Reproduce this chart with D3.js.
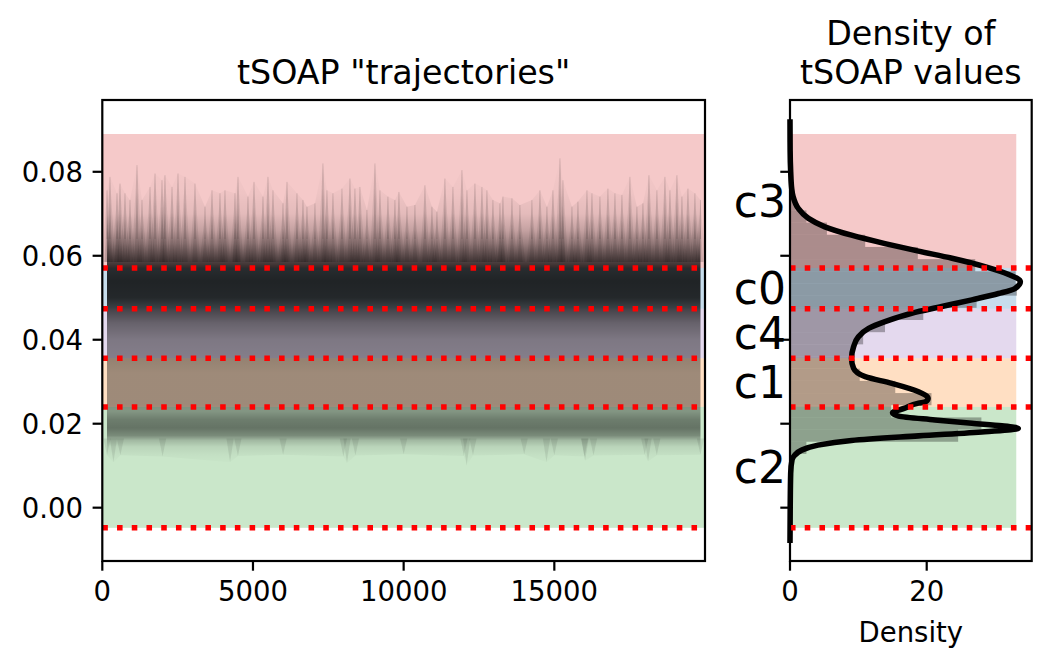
<!DOCTYPE html>
<html><head><meta charset="utf-8">
<script src="https://cdn.jsdelivr.net/npm/d3@7"></script>
<style>
body{margin:0;background:#fff}
svg{display:block}
text{font-family:"DejaVu Sans",sans-serif;fill:#000}
</style>
</head><body>
<svg id="chart" width="1051" height="669"></svg>
<script>
// ---------------- data ----------------
const clusterNames  = ["c2", "c1", "c4", "c0", "c3"];
const clusterColors = ["#2ca02c", "#ff7f0e", "#9467bd", "#1f77b4", "#d62728"];
// boundaries between the clusters (tSOAP value)
const thresholds = [-0.0048, 0.0240, 0.0356, 0.0474, 0.0571, 0.0890];

const xTicksLeft = [0, 5000, 10000, 15000];
const xTickLabelsLeft = ["0", "5000", "10000", "15000"];
const yTicks = [0, 0.02, 0.04, 0.06, 0.08];
const yTickLabels = ["0.00", "0.02", "0.04", "0.06", "0.08"];
const xTicksRight = [0, 20];
const xTickLabelsRight = ["0", "20"];

// KDE of all tSOAP values
const kdeValue   = [0.0925,0.0850,0.0800,0.0760,0.0741,0.0713,0.0689,0.0669,0.0649,0.0629,0.0611,0.0594,0.0574,0.0556,0.0538,0.0522,0.0510,0.0495,0.0479,0.0463,0.0443,0.0427,0.0407,0.0383,0.0356,0.0332,0.0312,0.0296,0.0276,0.0260,0.0252,0.0249,0.0237,0.0226,0.0218,0.0209,0.0201,0.0195,0.0189,0.0181,0.0171,0.0160,0.0149,0.0137,0.0125,0.0114,0.0082,0.0000,-0.0084];
const kdeDensity = [0.0,0.02,0.1,0.25,0.45,1.2,2.7,5.1,9.0,13.9,18.8,23.7,28.5,31.9,33.7,32.9,30.5,26.6,22.2,17.8,13.9,11.5,10.0,9.3,9.0,9.3,11.0,14.9,18.8,20.2,19.8,18.8,16.8,15.0,15.9,21.2,26.6,31.0,33.4,28.5,18.8,9.0,4.1,1.7,0.7,0.3,0.1,0.03,0.0];

// histogram of tSOAP values (lower bin edges, fixed width)
const histStart = -0.0075;
const histWidth = 0.0029;
const histDensity = [0.02,0.03,0.04,0.05,0.06,0.1,0.3,2.4,24.6,28.0,14.8,20.7,15.4,10.2,9.2,9.2,10.7,13.9,19.5,27.3,33.2,33.0,27.1,18.7,11.0,5.4,2.4,0.8,0.3,0.15,0.08,0.03,0.01,0.01,0.0];

// upper envelope of the trajectories (spike tips)
const trajTopTime  = [156,255,488,587,753,919,1151,1317,1583,1749,1981,2080,2313,2512,2744,3076,3408,3640,3905,4071,4403,4503,4834,5034,5332,5498,5664,5996,6129,6460,6659,6792,7057,7322,7455,7654,7953,8218,8384,8550,8782,9048,9214,9479,9711,9844,10110,10375,10707,10939,11105,11370,11636,11935,12101,12366,12598,12764,12963,13196,13295,13594,13859,14257,14523,14755,14954,15187,15286,15585,15784,16083,16249,16514,16779,17012,17244,17509,17741,17941,18140,18405,18671,18837,19069,19235,19434,19666,19850];
const trajTopValue = [0.0756,0.0788,0.0749,0.0772,0.0749,0.0733,0.0816,0.0733,0.0764,0.0796,0.0780,0.0792,0.0764,0.0796,0.0788,0.0772,0.0717,0.0756,0.0749,0.0756,0.0749,0.0788,0.0741,0.0776,0.0741,0.0788,0.0756,0.0725,0.0776,0.0749,0.0733,0.0717,0.0725,0.0820,0.0756,0.0749,0.0760,0.0784,0.0760,0.0764,0.0709,0.0820,0.0756,0.0741,0.0733,0.0752,0.0717,0.0721,0.0768,0.0717,0.0705,0.0784,0.0764,0.0804,0.0756,0.0772,0.0764,0.0756,0.0733,0.0725,0.0741,0.0737,0.0721,0.0733,0.0756,0.0717,0.0756,0.0832,0.0780,0.0717,0.0729,0.0756,0.0749,0.0741,0.0760,0.0749,0.0745,0.0788,0.0717,0.0725,0.0792,0.0756,0.0788,0.0756,0.0792,0.0741,0.0760,0.0749,0.0733];

// lower envelope of the trajectories
const trajBottomTime  = [156,370,600,2000,4240,4500,6000,8000,8120,8400,10000,12000,12090,12300,14000,14740,15000,16000,16020,16300,18000,18110,18400,19850];
const trajBottomValue = [0.0125,0.0108,0.0125,0.0122,0.0108,0.0123,0.0126,0.0122,0.0106,0.0124,0.0127,0.0123,0.0100,0.0124,0.0127,0.0108,0.0125,0.0122,0.0112,0.0124,0.0126,0.0110,0.0125,0.0126];

// how dark the overlaid trajectories are at each tSOAP level
const inkLevel   = [0.0100,0.0125,0.0145,0.0160,0.0172,0.0190,0.0210,0.0230,0.0245,0.0280,0.0320,0.0356,0.0400,0.0440,0.0474,0.0500,0.0540,0.0570,0.0600,0.0630,0.0660,0.0700,0.0750,0.0840];
const inkOpacity = [0,0.03,0.08,0.2,0.4,0.5,0.46,0.35,0.38,0.38,0.38,0.42,0.45,0.55,0.7,0.82,0.84,0.8,0.58,0.36,0.2,0.07,0.025,0.0];

// ---------------- layout ----------------
const svg = d3.select("#chart");
const L = {x0: 102.3, x1: 705, y0: 100, y1: 561};
const R = {x0: 790, x1: 1031.7};
const FS = 27.5;
const tickLen = 9.7;

const y = d3.scaleLinear().domain([-0.0127, 0.0971]).range([L.y1, L.y0]);
const xL = d3.scaleLinear().domain([0, 20000]).range([L.x0, L.x1]);
const xR = d3.scaleLinear().domain([0, 35.36]).range([R.x0, R.x1]);
const bandMaxDensity = 33.1;

const bands = clusterNames.map((n, i) => ({name: n, color: clusterColors[i], lo: thresholds[i], hi: thresholds[i + 1]}));

// ---------- left panel ----------
const gL = svg.append("g");
gL.selectAll("rect.band").data(bands).join("rect")
  .attr("x", xL(0)).attr("width", xL(20000) - xL(0))
  .attr("y", d => y(d.hi)).attr("height", d => y(d.lo) - y(d.hi))
  .attr("fill", d => d.color).attr("fill-opacity", 0.25);

// gradient for trajectory ink
const defs = svg.append("defs");
const grad = defs.append("linearGradient").attr("id", "ink")
  .attr("gradientUnits", "userSpaceOnUse")
  .attr("x1", 0).attr("x2", 0).attr("y1", y(0.0971)).attr("y2", y(-0.0127));
const gradOff = d3.scaleLinear().domain([0.0971, -0.0127]).range([0, 1]);
inkLevel.map((v, i) => ({v, o: inkOpacity[i]})).sort((a, b) => b.v - a.v).forEach(s => {
  grad.append("stop").attr("offset", gradOff(s.v)).attr("stop-color", "#000").attr("stop-opacity", s.o);
});
defs.append("clipPath").attr("id", "clipL").append("rect")
  .attr("x", L.x0).attr("y", L.y0).attr("width", L.x1 - L.x0).attr("height", L.y1 - L.y0);

const topPts = trajTopTime.map((t, i) => [t, trajTopValue[i]]);
const botPtsF = trajBottomTime.map((t, i) => [t, trajBottomValue[i]]);
const line = d3.line().x(d => xL(d[0])).y(d => y(d[1]));
const topPath = line(topPts);
const botPath = line(botPtsF.slice().reverse()).replace(/^M/, "L");
gL.append("path").attr("d", topPath + botPath + "Z").attr("fill", "url(#ink)").attr("clip-path", "url(#clipL)");

// flames rising to each spike tip
const halfW = 170;
const flameBase = 0.0585;
const flame = d => line([[d[0] - halfW, flameBase], [d[0] - 30, d[1] - 0.0035], [d[0], d[1]], [d[0] + 30, d[1] - 0.0035], [d[0] + halfW, flameBase]]);
gL.append("g").selectAll("path").data(topPts).join("path")
  .attr("d", flame).attr("fill", "#000").attr("fill-opacity", 0.08);
gL.append("g").selectAll("path").data(topPts).join("path")
  .attr("d", d => line([[d[0] - 90, flameBase], [d[0], d[1] - 0.006], [d[0] + 90, flameBase]]))
  .attr("fill", "#000").attr("fill-opacity", 0.1);
gL.append("g").selectAll("line").data(topPts).join("line")
  .attr("x1", d => xL(d[0])).attr("x2", d => xL(d[0]))
  .attr("y1", y(0.064)).attr("y2", d => y(d[1]))
  .attr("stroke", "#000").attr("stroke-opacity", 0.16).attr("stroke-width", 0.8);
// downward spikes below the c2 core
gL.append("g").selectAll("path").data(botPtsF).join("path")
  .attr("d", d => line([[d[0] - 120, 0.0165], [d[0], d[1]], [d[0] + 120, 0.0165]]))
  .attr("fill", "#000").attr("fill-opacity", 0.08);

// dotted thresholds
gL.selectAll("line.th").data(thresholds.slice(0, 5)).join("line")
  .attr("x1", L.x0).attr("x2", L.x1).attr("y1", d => y(d)).attr("y2", d => y(d))
  .attr("stroke", "red").attr("stroke-width", 5.56).attr("stroke-dasharray", "5.56,9.17");

// axes box
gL.append("rect").attr("x", L.x0).attr("y", L.y0).attr("width", L.x1 - L.x0).attr("height", L.y1 - L.y0)
  .attr("fill", "none").attr("stroke", "#000").attr("stroke-width", 2.2);
// x ticks
const xtL = gL.append("g").selectAll("g").data(xTicksLeft).join("g")
  .attr("transform", d => `translate(${xL(d)},${L.y1})`);
xtL.append("line").attr("y2", tickLen).attr("stroke", "#000").attr("stroke-width", 2.2);
xtL.append("text").attr("y", tickLen + 9.7 + 20.5).attr("text-anchor", "middle").attr("font-size", FS)
  .text((d, i) => xTickLabelsLeft[i]);
// y ticks
const ytL = gL.append("g").selectAll("g").data(yTicks).join("g")
  .attr("transform", d => `translate(${L.x0},${y(d)})`);
ytL.append("line").attr("x2", -tickLen).attr("stroke", "#000").attr("stroke-width", 2.2);
ytL.append("text").attr("x", -tickLen - 9.7).attr("dy", "0.36em").attr("text-anchor", "end").attr("font-size", FS)
  .text((d, i) => yTickLabels[i]);
gL.append("text").attr("x", (L.x0 + L.x1) / 2).attr("y", 84).attr("text-anchor", "middle")
  .attr("font-size", 33.3).text('tSOAP "trajectories"');

// ---------- right panel ----------
const gR = svg.append("g");
gR.selectAll("rect.band").data(bands).join("rect")
  .attr("x", xR(0)).attr("width", xR(bandMaxDensity) - xR(0))
  .attr("y", d => y(d.hi)).attr("height", d => y(d.lo) - y(d.hi))
  .attr("fill", d => d.color).attr("fill-opacity", 0.25);

const hist = histDensity.map((v, i) => ({lo: histStart + i * histWidth, hi: histStart + (i + 1) * histWidth, v}));
gR.selectAll("rect.hist").data(hist).join("rect")
  .attr("x", xR(0)).attr("width", d => xR(d.v) - xR(0))
  .attr("y", d => y(d.hi)).attr("height", d => y(d.lo) - y(d.hi))
  .attr("fill", "#000").attr("fill-opacity", 0.3);

const kde = kdeValue.map((v, i) => ({v, d: kdeDensity[i]})).sort((a, b) => a.v - b.v);
gR.append("path").datum(kde)
  .attr("d", d3.line().x(d => xR(d.d)).y(d => y(d.v)).curve(d3.curveMonotoneY))
  .attr("fill", "none").attr("stroke", "#000").attr("stroke-width", 5.56).attr("stroke-linejoin", "round");

gR.selectAll("line.th").data(thresholds.slice(0, 5)).join("line")
  .attr("x1", R.x0).attr("x2", R.x1).attr("y1", d => y(d)).attr("y2", d => y(d))
  .attr("stroke", "red").attr("stroke-width", 5.56).attr("stroke-dasharray", "5.56,9.17");

gR.append("rect").attr("x", R.x0).attr("y", L.y0).attr("width", R.x1 - R.x0).attr("height", L.y1 - L.y0)
  .attr("fill", "none").attr("stroke", "#000").attr("stroke-width", 2.2);
const xtR = gR.append("g").selectAll("g").data(xTicksRight).join("g")
  .attr("transform", d => `translate(${xR(d)},${L.y1})`);
xtR.append("line").attr("y2", tickLen).attr("stroke", "#000").attr("stroke-width", 2.2);
xtR.append("text").attr("y", tickLen + 9.7 + 20.5).attr("text-anchor", "middle").attr("font-size", FS)
  .text((d, i) => xTickLabelsRight[i]);
gR.append("g").selectAll("line").data(yTicks).join("line")
  .attr("x1", R.x0).attr("x2", R.x0 - tickLen).attr("y1", d => y(d)).attr("y2", d => y(d))
  .attr("stroke", "#000").attr("stroke-width", 2.2);
gR.selectAll("text.cl").data(bands).join("text")
  .attr("x", 786).attr("y", d => y((d.lo + d.hi) / 2)).attr("dy", "0.36em")
  .attr("text-anchor", "end").attr("font-size", 44).text(d => d.name);
gR.append("text").attr("x", (R.x0 + R.x1) / 2).attr("y", 642).attr("text-anchor", "middle")
  .attr("font-size", FS).text("Density");
const tR = gR.append("text").attr("x", (R.x0 + R.x1) / 2).attr("text-anchor", "middle").attr("font-size", 33.3);
tR.append("tspan").attr("x", (R.x0 + R.x1) / 2).attr("y", 45).text("Density of");
tR.append("tspan").attr("x", (R.x0 + R.x1) / 2).attr("y", 84).text("tSOAP values");
</script>
</body></html>
